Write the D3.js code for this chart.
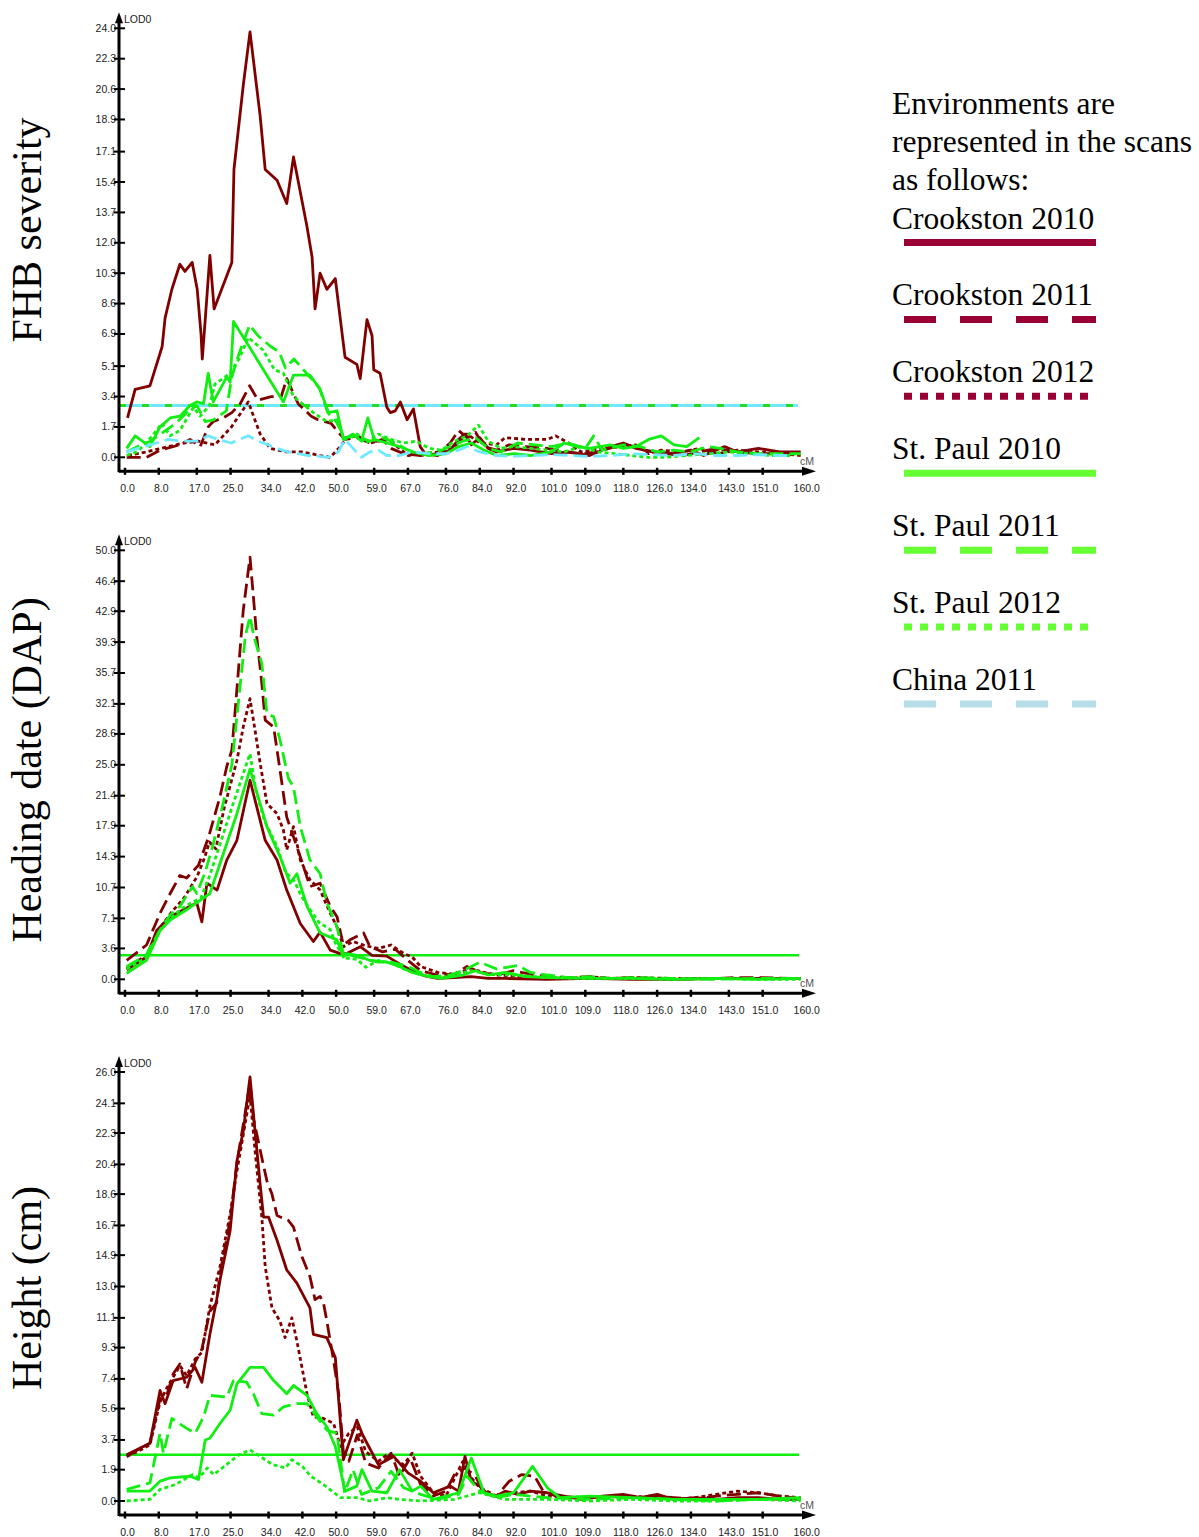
<!DOCTYPE html>
<html>
<head>
<meta charset="utf-8">
<script src="https://cdn.jsdelivr.net/npm/d3@7"></script>
<style>
  body { margin: 0; background: #fff; }
  svg { display: block; }
  .tick-label { font-family: "Liberation Sans", Arial, sans-serif; font-size: 10.5px; fill: #222; }
  .serif { font-family: "Liberation Serif", "Times New Roman", serif; fill: #000; }
</style>
</head>
<body>
<svg id="chart" width="1199" height="1537"></svg>
<script>
// ---- data (LOD scans) ----
const xTicks = [0, 8, 17, 25, 34, 42, 50, 59, 67, 76, 84, 92, 101, 109, 118, 126, 134, 143, 151, 160];

const fhbTicks = [0.0, 1.7, 3.4, 5.1, 6.9, 8.6, 10.3, 12.0, 13.7, 15.4, 17.1, 18.9, 20.6, 22.3, 24.0];
const dapTicks = [0.0, 3.6, 7.1, 10.7, 14.3, 17.9, 21.4, 25.0, 28.6, 32.1, 35.7, 39.3, 42.9, 46.4, 50.0];
const htTicks  = [0.0, 1.9, 3.7, 5.6, 7.4, 9.3, 11.1, 13.0, 14.9, 16.7, 18.6, 20.4, 22.3, 24.1, 26.0];

const envNames = ["Crookston 2010", "Crookston 2011", "Crookston 2012", "St. Paul 2010", "St. Paul 2011", "St. Paul 2012", "China 2011"];

// FHB severity
const fhbCrk10 = [[0.6,2.2],[2.4,3.8],[5.9,4.0],[8.8,6.2],[9.5,7.8],[11.1,9.4],[13.0,10.8],[14.2,10.4],[15.9,10.9],[17.1,9.4],[18.0,6.9],[18.3,5.5],[19.0,7.7],[20.1,11.3],[21.1,8.3],[25.3,10.9],[25.8,16.1],[26.5,17.6],[28.0,20.8],[29.6,23.8],[32.0,19.1],[33.2,16.1],[36.0,15.5],[38.3,14.2],[39.9,16.8],[43.1,12.9],[44.3,11.2],[45.0,8.3],[46.2,10.3],[47.8,9.4],[49.8,10.0],[52.1,5.6],[54.9,5.2],[55.7,4.4],[57.3,7.7],[58.5,6.8],[58.9,4.9],[60.4,4.7],[62.0,2.8],[62.8,2.5],[64.0,2.6],[65.2,3.1],[66.8,2.1],[68.3,2.7],[69.9,0.6],[71.1,0.2],[74,0.1],[77,0.4],[79,1.0],[80.5,1.3],[82,0.7],[84,1.1],[86,0.5],[88,0.3],[92,0.5],[96,0.4],[101,0.2],[105,0.3],[110,0.1],[115,0.6],[118,0.8],[121,0.5],[125,0.3],[130,0.2],[134,0.4],[137,0.1],[142,0.6],[145,0.3],[150,0.5],[155,0.3],[160,0.3]];
const fhbCrk11 = [[0.4,0.0],[5.1,0.0],[8.3,0.4],[13.0,0.7],[15.4,1.0],[17.8,0.6],[19.7,1.7],[20.9,2.0],[23.2,2.2],[25.3,2.5],[27.3,3.0],[29.5,4.0],[31.5,3.2],[34.6,3.4],[37.0,3.4],[38.3,4.4],[41.0,3.0],[44.1,2.3],[45.7,2.1],[48.8,1.9],[50.5,1.4],[52.1,1.0],[55,1.1],[58,0.8],[61,1.0],[63,0.5],[66,0.2],[70,0.1],[74,0.2],[77,0.8],[79,1.5],[81,1.1],[83,1.4],[85,0.6],[88,0.4],[91,0.7],[95,0.6],[100,0.5],[104,0.3],[108,0.2],[112,0.3],[116,0.6],[119,0.7],[123,0.4],[128,0.2],[132,0.1],[136,0.3],[140,0.5],[145,0.3],[150,0.2],[155,0.2],[160,0.2]];
const fhbCrk12 = [[0.7,0.1],[5,0.3],[10.2,0.6],[14,0.8],[17.3,0.9],[21.3,0.7],[25.2,1.7],[29.2,3.1],[32.0,1.3],[34.4,0.5],[38.3,0.3],[42.0,0.3],[46.2,0.1],[48.6,0.0],[51.0,0.6],[52.5,1.1],[55,1.2],[58,0.8],[62,1.0],[65,0.5],[67,0.1],[70,0.2],[75,0.3],[78,0.6],[81,1.3],[84,0.8],[88,0.7],[90,1.1],[95,1.0],[100,1.0],[102,1.2],[105,0.8],[108,0.3],[113,0.5],[118,0.6],[121,0.7],[124,0.2],[127,0.4],[132,0.3],[136,0.5],[140,0.2],[145,0.4],[150,0.3],[160,0.1]];
const fhbStp10 = [[0.4,0.5],[2.4,1.2],[5.9,0.6],[8.3,1.7],[10.7,2.2],[13.0,2.3],[15.4,2.9],[17.0,3.1],[18.6,3.0],[19.7,4.7],[20.9,3.1],[24.1,4.5],[24.9,4.2],[25.7,7.6],[37.5,3.1],[39.9,4.6],[43.8,4.6],[46.2,3.8],[48.2,2.5],[50.2,2.6],[51.7,1.0],[54,1.3],[56,0.9],[57.5,2.2],[59,1.0],[62,0.8],[65,0.6],[68,0.3],[72,0.1],[76,0.2],[79,0.6],[82,0.8],[85,0.4],[88,0.1],[92,0.2],[96,0.1],[101,0.3],[104,0.8],[107,0.6],[110,0.5],[115,0.7],[118,0.5],[121,0.6],[124,1.0],[127,1.2],[130,0.7],[133,0.6],[136,1.1]];
const fhbStp11 = [[0.4,0.3],[3,0.6],[6,0.9],[9,1.4],[12,1.9],[15,2.6],[17,2.9],[19,2.0],[21,2.1],[24,2.6],[25.3,4.5],[27,5.8],[29.5,7.4],[31.5,6.8],[34.5,6.2],[36.5,5.9],[38,5.0],[40,5.5],[43,4.7],[46,3.9],[48,2.5],[50,2.0],[52,1.1],[55,1.2],[58,0.9],[61,1.1],[64,0.8],[67,0.4],[70,0.2],[74,0.3],[77,0.6],[80,0.9],[83,1.1],[86,0.5],[89,0.3],[93,0.8],[97,0.7],[101,0.6],[105,0.8],[109,0.5],[111,1.2],[113,0.4],[118,0.7],[122,0.6],[126,0.3],[130,0.4],[134,0.3],[138,0.6],[141,0.5],[145,0.3],[150,0.2],[155,0.2],[160,0.2]];
const fhbStp12 = [[0.4,0.1],[2.8,0.3],[5,0.8],[7.5,1.5],[8.7,1.9],[10.7,1.2],[13,1.5],[16.2,2.8],[17.8,2.3],[20,2.9],[21.3,4.1],[24.9,4.7],[27,5.5],[29.2,6.7],[32.7,6.0],[35.4,4.9],[37.5,4.7],[39.9,3.4],[44.6,2.5],[47.8,2.0],[50.2,2.1],[52,1.0],[55,1.3],[57,0.8],[60,1.3],[63,1.0],[66,0.8],[69,0.9],[72,0.5],[75,0.4],[78,0.9],[81,1.2],[83.7,1.8],[86,0.9],[89,0.5],[92,0.6],[96,0.5],[100,0.4],[104,0.3],[108,0.6],[112,0.3],[116,0.2],[120,0.1],[124,0.0],[128,0.0],[133,0.1],[138,0.2],[143,0.3],[148,0.2],[153,0.1],[158,0.1]];
const fhbChn11 = [[0.3,0.3],[3,0.5],[6,0.7],[10.2,1.0],[13,0.9],[17.3,0.9],[19.7,1.2],[22,1.0],[25.2,0.8],[27,1.0],[29.2,1.2],[31.5,0.9],[33.9,0.7],[36,0.5],[38.6,0.3],[41,0.2],[43.4,0.1],[46,0.05],[48.1,0.0],[50.5,0.3],[52.1,1.0],[54,0.5],[56,0.0],[58,0.3],[60,0.4],[62,0.1],[65,0.1],[68,0.3],[72,0.2],[76,0.2],[79,0.4],[81,0.6],[84,0.3],[88,0.1],[92,0.05],[96,0.1],[101,0.15],[106,0.1],[110,0.05],[115,0.1],[120,0.2],[125,0.15],[130,0.1],[135,0.2],[140,0.1],[145,0.1],[150,0.15],[155,0.1],[158,0.1]];

// Heading date (DAP)
const dapCrk10 = [[0.4,1.1],[5.1,2.6],[7.5,5.7],[10.7,7.3],[14.6,8.3],[17.0,8.9],[18.2,6.7],[19.4,11.2],[21.8,10.4],[24.1,13.9],[26.5,16.2],[29.6,23.2],[33.2,16.2],[36.0,13.9],[38.3,10.4],[41.5,6.5],[44.6,4.4],[46.2,5.5],[48.6,3.4],[51.0,3.0],[52.5,3.0],[55.7,3.8],[58.5,2.8],[62,2.7],[65,1.8],[68,1.0],[71,0.4],[74,0.1],[78,0.2],[82,0.3],[86,0.1],[90,0.1],[100,0.0],[110,0.1],[120,0.0],[130,0.0],[140,0.1],[150,0.1],[160,0.1]];
const dapCrk11 = [[0.4,2.2],[5.1,4.0],[8.3,7.7],[10.7,10.0],[13.0,12.1],[14.6,11.8],[17.4,13.3],[19.8,16.6],[22.5,21.3],[24.1,24.8],[25.3,26.7],[26.1,31.4],[28.0,43.0],[29.6,49.2],[30.4,44.6],[31.2,39.9],[32.4,34.5],[33.2,30.2],[35.2,29.4],[36.7,24.4],[38.3,18.9],[39.9,16.6],[41.5,14.3],[43.8,10.8],[46.2,11.2],[48.6,8.5],[50.2,7.3],[51.7,4.0],[53.3,4.6],[56.5,5.4],[58.0,3.8],[61,3.2],[64,3.5],[67,2.2],[70,1.0],[74,0.5],[78,0.6],[81,1.5],[84,0.8],[88,0.5],[92,1.0],[96,0.6],[100,0.3],[105,0.2],[110,0.3],[115,0.1],[120,0.2],[125,0.1],[130,0.0],[140,0.1],[145,0.2],[150,0.2],[158,0.1]];
const dapCrk12 = [[0.4,1.3],[5.1,2.8],[8.3,6.0],[11,7.8],[14,9.5],[17.1,12.0],[18.8,14.1],[20.0,16.0],[21.5,15.2],[23.5,20.0],[26.5,25.5],[28.0,29.4],[29.6,32.7],[30.8,29.0],[32.0,25.2],[33.6,20.5],[36.0,19.3],[37.5,17.4],[38.3,15.1],[39.9,17.8],[41.5,13.9],[43.8,11.6],[46.2,10.4],[48.6,7.7],[50.2,6.1],[51.7,3.8],[54,4.4],[57,3.9],[60,3.6],[63,4.0],[66,3.0],[68,2.6],[70,1.5],[74,0.8],[78,0.6],[82,1.2],[85,0.8],[88,0.5],[92,0.4],[96,0.2],[100,0.2],[105,0.1],[110,0.3],[115,0.1],[120,0.2],[130,0.1],[140,0.1],[150,0.1],[160,0.1]];
const dapStp10 = [[0.4,0.7],[5.1,2.2],[8.3,5.7],[10.7,6.9],[14.6,8.1],[17.8,9.2],[20.1,10.0],[22.5,13.5],[26.5,19.3],[29.6,24.5],[33.6,17.8],[36.7,14.3],[39.1,11.2],[40.7,12.3],[43.1,8.5],[46.2,5.4],[50.2,4.6],[51.7,2.6],[52.5,3.0],[55,2.8],[58,2.2],[62,2.0],[65,1.5],[68,0.8],[72,0.3],[75,0.1],[80,0.5],[83,1.0],[86,0.5],[90,0.8],[95,0.3],[100,0.2],[110,0.1],[120,0.1],[130,0.0],[140,0.1],[150,0.0],[160,0.1]];
const dapStp11 = [[0.4,1.5],[5,2.8],[8,5.5],[10.7,7.5],[13,8.5],[16,10.8],[17,10.0],[19,12.5],[20.9,15.8],[23,20.0],[25.3,25.0],[27,33.0],[28.5,40.0],[29.6,42.3],[30.5,40.0],[32.4,36.8],[33.6,31.0],[35.2,30.6],[36.7,27.9],[38.7,23.4],[39.9,22.4],[41.5,17.8],[43.8,13.9],[46.2,12.3],[47.8,8.9],[50.2,6.1],[51.7,3.0],[55,2.6],[60,2.0],[63,2.0],[67,1.5],[70,0.8],[73,0.3],[77,0.5],[80,1.0],[84,2.0],[88,1.2],[93,1.6],[96,0.8],[100,0.5],[105,0.2],[110,0.3],[115,0.1],[120,0.2],[130,0.1],[140,0.0],[150,0.1],[160,0.1]];
const dapStp12 = [[0.4,1.2],[5,2.5],[8,5.5],[10.7,7.0],[13,8.1],[16,9.0],[18,9.5],[20,12.0],[23,16.5],[25.3,20.0],[27,22.5],[29.6,26.3],[31,22.0],[33,18.5],[36,15.5],[38,12.5],[40,11.5],[42,9.5],[44,8.0],[46,6.6],[48.6,5.8],[50,4.0],[52,2.5],[55,2.3],[57,1.4],[60,2.2],[63,1.9],[66,1.2],[70,0.5],[75,0.2],[82,1.0],[86,0.6],[92,0.5],[100,0.2],[110,0.1],[120,0.1],[130,0.0],[140,0.1],[150,0.0],[160,0.0]];

// Height (cm)
const htCrk10 = [[0.4,2.8],[5.9,3.5],[8.3,6.7],[9.5,5.9],[11.4,7.3],[14.6,7.5],[16.6,8.1],[18.2,7.2],[20.1,10.1],[21.7,12.2],[22.5,13.4],[24.9,16.4],[26.5,20.6],[28.0,22.4],[29.6,25.7],[30.8,22.4],[32.0,19.2],[32.8,17.2],[34.0,17.2],[36.0,15.8],[38.3,14.0],[40.7,13.2],[43.8,11.7],[44.6,10.1],[47.8,9.9],[49.8,8.7],[50.6,6.1],[51.7,2.5],[52.5,3.1],[54.9,4.9],[56.1,4.1],[57.3,3.5],[60,2.2],[63.6,2.7],[67,1.7],[70,1.2],[73,0.5],[77,0.9],[79,0.6],[80.5,2.7],[82,1.2],[84,0.9],[86,0.4],[88,0.3],[90,0.6],[93,0.4],[96,0.6],[100,0.5],[104,0.3],[108,0.1],[113,0.3],[118,0.4],[122,0.2],[126,0.4],[130,0.1],[135,0.2],[140,0.1],[145,0.2],[150,0.2],[155,0.1],[160,0.1]];
const htCrk11 = [[0.4,2.7],[3,3.1],[5.9,3.5],[8.3,6.2],[10,6.5],[11.4,7.7],[13.0,8.3],[14.6,6.8],[16.6,8.4],[18.2,9.2],[20.1,11.5],[21.7,12.0],[22.5,13.8],[24.9,17.0],[26.5,20.5],[28.0,22.8],[29.6,25.3],[30.4,23.2],[32.4,20.8],[33.6,19.4],[34.8,18.6],[36.0,17.3],[38.7,17.0],[39.9,16.6],[41.9,14.8],[43.8,13.6],[45.0,12.2],[46.2,12.4],[47.0,12.0],[47.8,10.9],[49.4,8.5],[50.6,6.5],[51.7,3.0],[53,2.4],[55,4.0],[57,2.3],[60,2.0],[63,2.9],[65,1.5],[67.5,2.6],[70,1.0],[73,0.3],[76,0.6],[78,1.6],[80.5,2.0],[83,1.5],[85,0.5],[88,0.3],[91,1.2],[94,1.6],[97,1.5],[99,0.6],[102,0.3],[106,0.2],[110,0.2],[115,0.3],[120,0.2],[125,0.3],[130,0.2],[135,0.1],[140,0.3],[145,0.4],[150,0.5],[155,0.3],[158,0.2]];
const htCrk12 = [[0.4,2.7],[3,3.0],[5.9,3.4],[8.3,6.0],[10,6.9],[11.4,7.5],[13.0,8.2],[14.6,7.6],[16.6,8.6],[18.2,9.0],[20.1,11.8],[22.5,14.2],[24.9,17.4],[26.5,20.0],[28.0,22.2],[29.6,24.6],[30.8,21.2],[32.4,17.2],[33.2,14.2],[34.8,11.7],[36.7,10.9],[37.9,9.9],[39.5,11.1],[40.7,9.7],[43.1,6.5],[44.6,5.1],[47.0,5.0],[49.4,4.7],[51.0,3.3],[53,4.1],[55,4.5],[57,3.0],[60,2.4],[62,2.8],[66,2.2],[68,2.9],[70,1.5],[73,0.5],[76,0.3],[80,2.4],[82,1.4],[84,0.8],[88,0.3],[92,0.5],[96,0.6],[100,0.3],[110,0.2],[120,0.3],[125,0.2],[130,0.1],[135,0.2],[140,0.4],[145,0.6],[150,0.5],[155,0.3],[160,0.2]];
const htStp10 = [[0.4,0.6],[5.9,0.6],[8.3,1.2],[10.7,1.4],[15.4,1.5],[17.4,1.3],[19.0,3.7],[20.1,3.8],[22.5,4.7],[24.9,5.5],[26.5,7.1],[29.6,8.1],[32.8,8.1],[35.2,7.3],[38.3,6.5],[39.9,7.0],[43.1,6.4],[45.4,5.3],[47.8,4.5],[49.8,3.3],[52.1,0.6],[54.9,0.9],[56.1,1.9],[58.5,0.6],[62,0.5],[65,1.9],[68,0.6],[70,0.9],[73,0.1],[76,0.3],[79,0.5],[82,2.6],[85,0.5],[88,0.3],[92,0.5],[96.5,2.1],[100,0.8],[103,0.2],[110,0.3],[120,0.2],[130,0.1],[140,0.1],[150,0.1],[160,0.2]];
const htStp11 = [[0.4,0.7],[5.9,1.1],[8.3,4.1],[9.1,2.9],[11.1,5.0],[14.6,4.4],[16.6,4.1],[18.6,5.1],[20.1,6.4],[24.1,6.3],[25.7,7.3],[28.8,7.2],[30.4,6.5],[32.4,5.3],[35.2,5.2],[37.5,5.7],[40.7,5.9],[43.1,5.9],[45.4,5.1],[47.8,4.3],[50.2,4.1],[52,0.5],[54,1.9],[56,0.4],[60,0.8],[63,1.8],[66,0.8],[70,0.4],[74,0.1],[79,0.4],[81,1.5],[84,0.6],[88,0.2],[92,0.4],[96,0.3],[100,0.2],[110,0.1],[120,0.2],[130,0.1],[140,0.0],[150,0.1],[160,0.1]];
const htStp12 = [[0.4,0.0],[5.9,0.1],[8.3,0.7],[12,1.0],[16,1.6],[17.5,1.4],[19.5,2.0],[21,1.6],[24,2.2],[27,2.8],[29.6,3.1],[32,2.7],[35,2.2],[38,2.0],[39.5,2.5],[42,2.1],[44,1.5],[47,1.0],[49,0.6],[51,0.2],[55,0.2],[58,0.0],[62,0.2],[65,0.1],[70,0.0],[78,0.1],[84,0.5],[90,0.1],[100,0.1],[110,0.0],[120,0.1],[130,0.0],[140,0.0],[150,0.1],[160,0.0]];

// significance thresholds
const fhbThreshold = 2.9;
const dapThreshold = 2.8;
const htThreshold = 2.8;

// ---- styles ----
const RED = "#800000", GREEN = "#11ee11", CYAN = "#70e8ff";
const lineStyles = [
  { color: RED, dash: null },
  { color: RED, dash: "14,6" },
  { color: RED, dash: "4,3" },
  { color: GREEN, dash: null },
  { color: GREEN, dash: "14,6" },
  { color: GREEN, dash: "4,3" },
  { color: CYAN, dash: "14,6" }
];
const legendStyles = [
  { color: "#990033", dash: null },
  { color: "#990033", dash: "32,24" },
  { color: "#990033", dash: "8,8" },
  { color: "#66ff33", dash: null },
  { color: "#66ff33", dash: "32,24" },
  { color: "#66ff33", dash: "8,8" },
  { color: "#b7dde8", dash: "32,24" }
];

const panels = [
  { title: "FHB severity", titleY: 230, y0: 457.3, max: 24, ticks: fhbTicks,
    series: [fhbCrk10, fhbCrk11, fhbCrk12, fhbStp10, fhbStp11, fhbStp12, fhbChn11], thr: fhbThreshold, cyanThr: true },
  { title: "Heading date (DAP)", titleY: 770, y0: 979.3, max: 50, ticks: dapTicks,
    series: [dapCrk10, dapCrk11, dapCrk12, dapStp10, dapStp11, dapStp12], thr: dapThreshold, cyanThr: false },
  { title: "Height (cm)", titleY: 1288, y0: 1501, max: 26, ticks: htTicks,
    series: [htCrk10, htCrk11, htCrk12, htStp10, htStp11, htStp12], thr: htThreshold, cyanThr: false }
];

const svg = d3.select("#chart");
svg.append("rect").attr("width", 1199).attr("height", 1537).attr("fill", "#fff");

const x = d3.scaleLinear().domain([0, 160]).range([125, 800.7]);
const axisX = 119;

panels.forEach(p => {
  const g = svg.append("g");
  const y = d3.scaleLinear().domain([0, p.max]).range([p.y0, p.y0 - 429]);
  const baseY = p.y0 + 14;
  const topY = p.y0 - 445;

  // threshold lines
  if (p.cyanThr) {
    g.append("line").attr("x1", axisX).attr("x2", 798).attr("y1", y(p.thr)).attr("y2", y(p.thr))
      .attr("stroke", CYAN).attr("stroke-width", 3);
    g.append("line").attr("x1", axisX).attr("x2", 798).attr("y1", y(p.thr)).attr("y2", y(p.thr))
      .attr("stroke", "#22dd22").attr("stroke-width", 3).attr("stroke-dasharray", "7,16");
  } else {
    g.append("line").attr("x1", axisX).attr("x2", 799).attr("y1", y(p.thr)).attr("y2", y(p.thr))
      .attr("stroke", GREEN).attr("stroke-width", 2.6);
  }

  // scans
  const line = d3.line().x(d => x(d[0])).y(d => y(d[1]));
  p.series.forEach((s, i) => {
    g.append("path")
      .datum(s)
      .attr("d", line)
      .attr("fill", "none")
      .attr("stroke", lineStyles[i].color)
      .attr("stroke-width", 2.8)
      .attr("stroke-linejoin", "round")
      .attr("stroke-dasharray", lineStyles[i].dash);
  });

  // y axis
  g.append("line").attr("x1", axisX).attr("x2", axisX).attr("y1", topY + 8).attr("y2", baseY + 1)
    .attr("stroke", "#000").attr("stroke-width", 3);
  g.append("path").attr("d", `M${axisX},${topY} L${axisX - 4},${topY + 11} L${axisX + 4},${topY + 11} Z`).attr("fill", "#000");
  g.append("text").attr("class", "tick-label").attr("x", axisX + 5).attr("y", topY + 11).text("LOD0");

  g.selectAll(".ytl").data(p.ticks).join("text")
    .attr("class", "tick-label")
    .attr("x", 116).attr("y", d => y(d) + 3.5)
    .attr("text-anchor", "end")
    .text(d => d.toFixed(1));
  g.selectAll(".ytk").data(p.ticks).join("line")
    .attr("x1", 114).attr("x2", 125).attr("y1", d => y(d)).attr("y2", d => y(d))
    .attr("stroke", "#000").attr("stroke-width", 2);

  // x axis
  g.append("line").attr("x1", axisX).attr("x2", 806).attr("y1", baseY).attr("y2", baseY)
    .attr("stroke", "#000").attr("stroke-width", 3);
  g.append("path").attr("d", `M816,${baseY} L802,${baseY - 4.5} L802,${baseY + 4.5} Z`).attr("fill", "#000");
  g.selectAll(".xtk").data(xTicks.slice(0, -1)).join("line")
    .attr("x1", d => x(d)).attr("x2", d => x(d)).attr("y1", baseY - 3.5).attr("y2", baseY + 3.5)
    .attr("stroke", "#000").attr("stroke-width", 2.5);
  g.selectAll(".xtl").data(xTicks).join("text")
    .attr("class", "tick-label")
    .attr("x", d => x(d) + (d === 160 ? 6 : 2.5)).attr("y", baseY + 20.5)
    .attr("text-anchor", "middle")
    .text(d => d.toFixed(1));
  g.append("text").attr("class", "tick-label").attr("x", 800).attr("y", baseY - 6)
    .style("fill", "#555").text("cM");

  // panel title
  svg.append("text").attr("class", "serif")
    .attr("transform", `translate(41,${p.titleY}) rotate(-90)`)
    .attr("text-anchor", "middle")
    .style("font-size", "42px")
    .text(p.title);
});

// ---- legend ----
const introLines = ["Environments are", "represented in the scans", "as follows:"];
const lg = svg.append("g");
lg.selectAll(".intro").data(introLines).join("text")
  .attr("class", "serif").style("font-size", "31.5px")
  .attr("x", 892).attr("y", (d, i) => 114 + i * 38.2)
  .text(d => d);

const legendY = d3.scalePoint().domain(envNames).range([228.5, 690]);
envNames.forEach((name, i) => {
  lg.append("text").attr("class", "serif").style("font-size", "31.5px")
    .attr("x", 892).attr("y", legendY(name)).text(name);
  const st = legendStyles[i];
  lg.append("line")
    .attr("x1", 904).attr("x2", st.dash === "8,8" ? 1088 : 1096)
    .attr("y1", legendY(name) + 14).attr("y2", legendY(name) + 14)
    .attr("stroke", st.color).attr("stroke-width", 7)
    .attr("stroke-dasharray", st.dash);
});
</script>
</body>
</html>
